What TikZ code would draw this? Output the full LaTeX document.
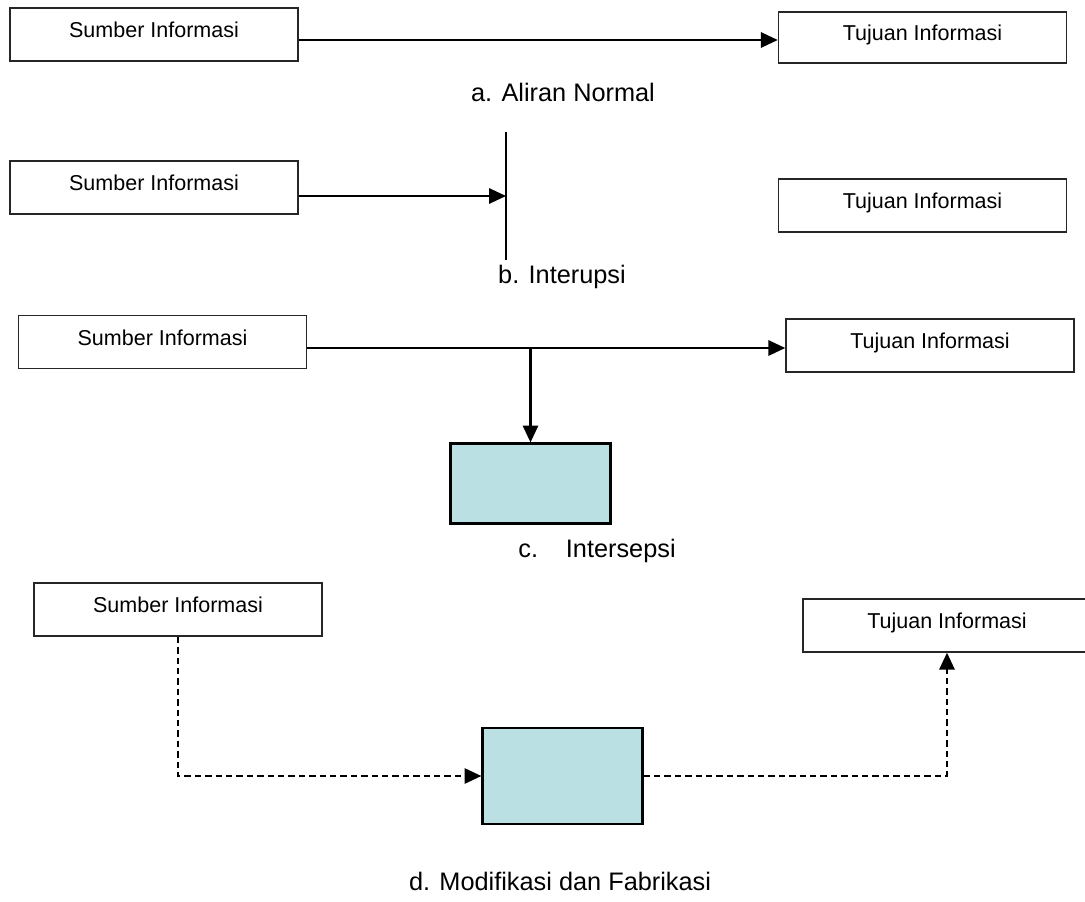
\documentclass[tikz,border=0pt]{standalone}
\usepackage{fontspec}
\setmainfont{Liberation Sans}
\usetikzlibrary{arrows.meta}
\definecolor{tosca}{RGB}{187,224,227}

\begin{document}
\begin{tikzpicture}[x=0.025cm, y=-0.025cm, >={Triangle[length=0.42cm,width=0.38cm]},
  kotak/.style={rectangle, draw=black!85, line width=1pt, minimum width=7.2cm, minimum height=1.325cm, inner sep=0pt, font=\fontsize{15.3}{18}\selectfont, text height=0.45cm, text depth=0.3cm},
  penyadap/.style={rectangle, draw, line width=1.5pt, fill=tosca, minimum width=4.0cm, minimum height=2.0cm},
  judul/.style={anchor=base, font=\fontsize{18}{21}\selectfont},
  alur/.style={line width=1.5pt},
  putus/.style={line width=1.5pt, dash pattern=on 0.16cm off 0.1cm}]
\clip (0,0) rectangle (1085,901);

% a. aliran normal
\node (sumberA) [kotak] at (154,34.5) {Sumber Informasi};
\node (tujuanA) [kotak, minimum height=1.275cm] at (922.5,37.5) {Tujuan Informasi};
\draw [alur, ->] (sumberA.east |- 0,40) -- (tujuanA.west |- 0,40);
\node (labelA) [judul] at (563,101) {a. Aliran Normal};

% b. interupsi
\node (sumberB) [kotak] at (154,187.5) {Sumber Informasi};
\node (tujuanB) [kotak] at (922.5,205.5) {Tujuan Informasi};
\coordinate (palangAtas) at (506,132);
\coordinate (palangBawah) at (506,260);
\coordinate (palangTengah) at (506,196);
\draw [line width=1.3pt] (palangAtas) -- (palangBawah);
\draw [alur, ->] (sumberB.east |- palangTengah) -- (palangTengah);
\node (labelB) [judul] at (562,283) {b. Interupsi};

% c. intersepsi
\node (sumberC) [kotak] at (162.5,342) {Sumber Informasi};
\node (tujuanC) [kotak] at (930,345.5) {Tujuan Informasi};
\node (penyadapC) [penyadap] at (530.5,483.5) {};
\draw [alur, ->] (sumberC.east |- 0,348) -- (tujuanC.west |- 0,348);
\draw [alur, ->] (penyadapC.north |- 0,348) -- (penyadapC.north);
\node (labelC) [judul] at (597,557) {c.\hspace{1.1em}Intersepsi};

% d. modifikasi dan fabrikasi
\node (sumberD) [kotak] at (178,609.5) {Sumber Informasi};
\node (tujuanD) [kotak] at (947,625.5) {Tujuan Informasi};
\node (penyadapD) [penyadap, minimum height=2.4cm] at (562.5,776) {};
\draw [putus, ->] (sumberD.south) |- (penyadapD.west);
\draw [putus, ->] (penyadapD.east) -| (tujuanD.south);
\node (labelD) [judul] at (560,890) {d. Modifikasi dan Fabrikasi};
\end{tikzpicture}
\end{document}
